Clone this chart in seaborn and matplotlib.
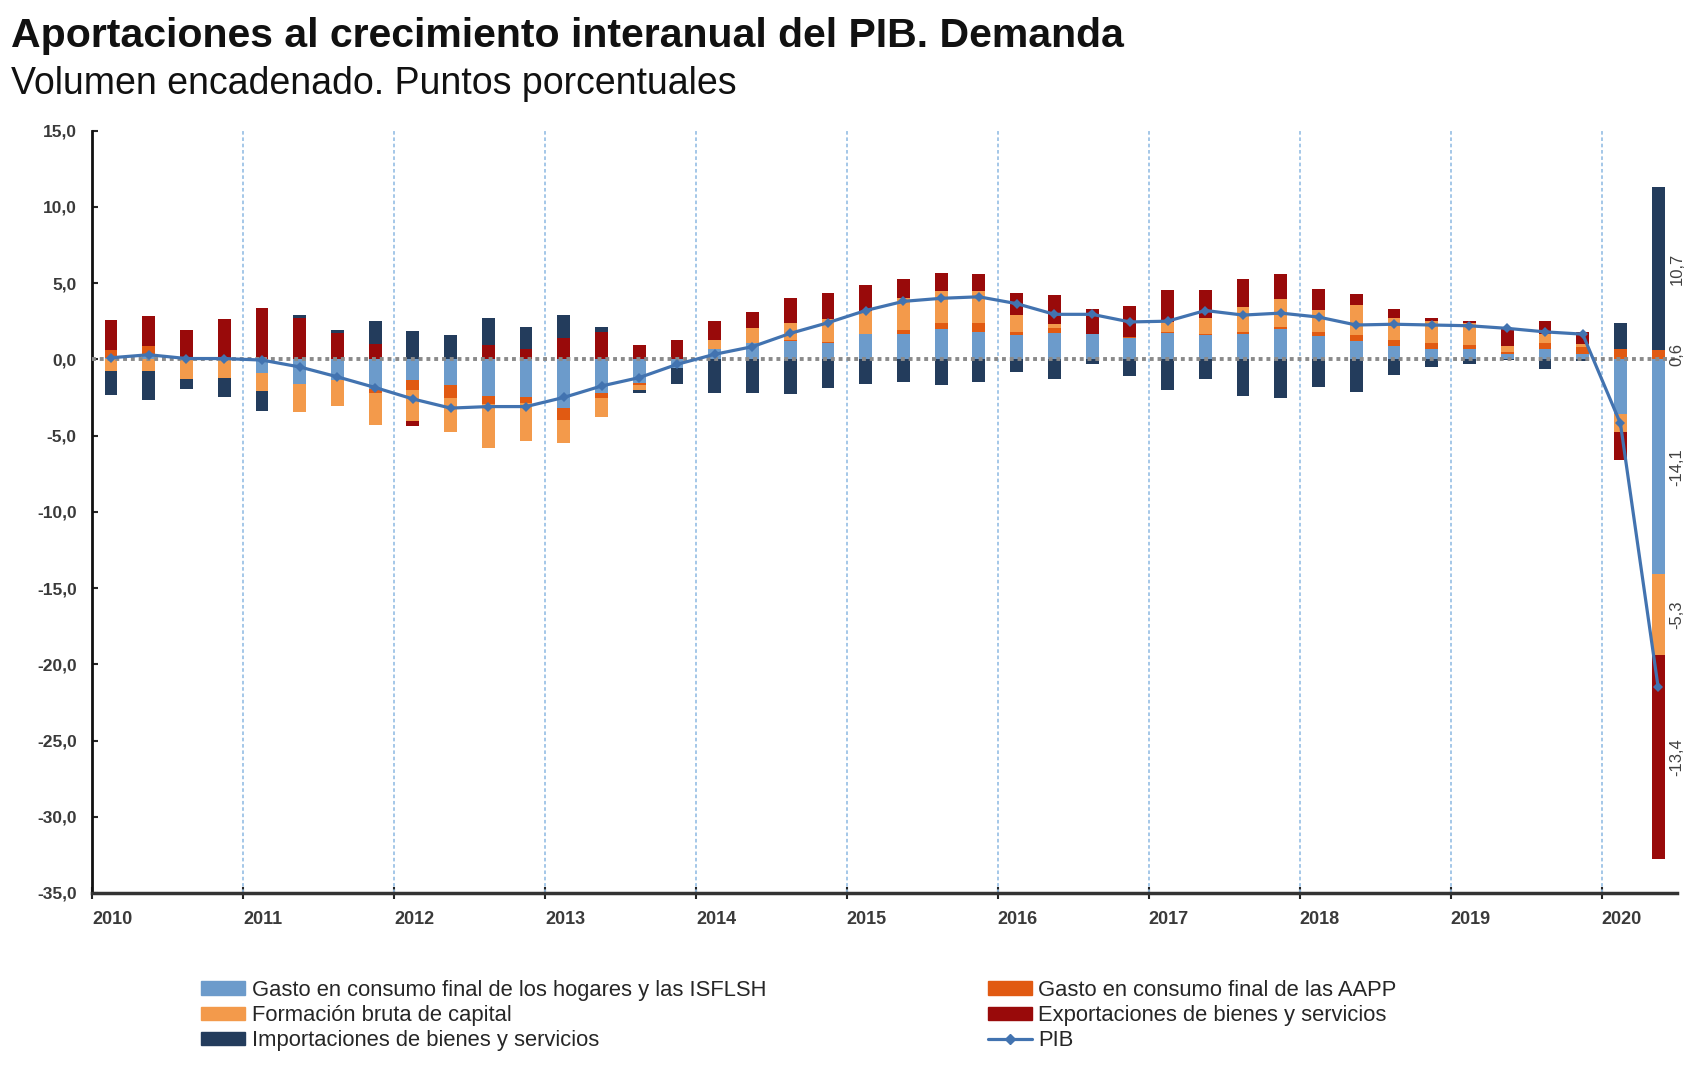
import numpy as np
import pandas as pd
import matplotlib
matplotlib.use('Agg')
import matplotlib.pyplot as plt
import seaborn as sns
from matplotlib.patches import Patch
from matplotlib.lines import Line2D

# datos trimestrales 2010T1 - 2020T2 (puntos porcentuales)
years = ['2010', '2011', '2012', '2013', '2014', '2015', '2016', '2017', '2018', '2019', '2020']

hogares = [0.10, 0.30, 0.00, 0.00, -0.87, -1.64, -1.38, -1.96, -1.35, -1.68, -2.40,
           -2.45, -3.20, -2.18, -1.53, -0.55, 0.65, 1.09, 1.20, 1.09, 1.64, 1.64,
           1.97, 1.79, 1.59, 1.75, 1.64, 1.42, 1.75, 1.59, 1.64, 1.97, 1.53,
           1.20, 0.87, 0.65, 0.70, 0.33, 0.70, 0.33, -3.60, -14.1]
aapp = [0.50, 0.60, 0.10, 0.10, 0.00, 0.00, 0.00, -0.22, -0.68, -0.87, -0.55,
        -0.39, -0.79, -0.39, -0.17, 0.00, 0.00, 0.00, 0.05, 0.05, 0.05, 0.26,
        0.39, 0.57, 0.22, 0.30, 0.05, 0.05, 0.05, 0.05, 0.17, 0.17, 0.28,
        0.39, 0.37, 0.44, 0.22, 0.17, 0.39, 0.48, 0.65, 0.6]
fbc = [-0.75, -0.75, -1.27, -1.20, -1.20, -1.81, -1.68, -2.10, -2.00, -2.20, -2.84,
       -2.50, -1.50, -1.24, -0.33, 0.00, 0.59, 0.98, 1.14, 1.48, 1.46, 2.14,
       2.12, 2.12, 1.07, 0.28, 0.00, 0.00, 0.65, 1.09, 1.62, 1.79, 1.40,
       2.00, 1.44, 1.42, 1.48, 0.37, 0.55, 0.22, -1.20, -5.3]
exportaciones = [1.95, 1.95, 1.85, 2.55, 3.38, 2.73, 1.75, 1.03, -0.33, 0.00, 0.94,
                 0.65, 1.42, 1.81, 0.92, 1.27, 1.27, 1.03, 1.60, 1.70, 1.72, 1.24,
                 1.20, 1.14, 1.48, 1.92, 1.59, 2.00, 2.12, 1.83, 1.86, 1.64, 1.38,
                 0.72, 0.59, 0.17, 0.10, 1.16, 0.87, 0.76, -1.81, -13.4]
importaciones = [-1.60, -1.90, -0.70, -1.30, -1.33, 0.20, 0.20, 1.48, 1.86, 1.57, 1.75,
                 1.48, 1.46, 0.33, -0.15, -1.09, -2.18, -2.23, -2.29, -1.90, -1.64, -1.48,
                 -1.68, -1.48, -0.81, -1.27, -0.33, -1.09, -2.00, -1.27, -2.40, -2.51, -1.79,
                 -2.12, -1.05, -0.50, -0.33, -0.05, -0.65, -0.10, 1.70, 10.7]
pib = [0.10, 0.30, 0.05, 0.05, -0.05, -0.50, -1.15, -1.85, -2.60, -3.20, -3.10,
       -3.10, -2.50, -1.75, -1.20, -0.33, 0.33, 0.83, 1.70, 2.40, 3.20, 3.80,
       4.00, 4.10, 3.65, 2.95, 2.95, 2.45, 2.50, 3.20, 2.90, 3.03, 2.77,
       2.25, 2.30, 2.25, 2.20, 2.03, 1.80, 1.65, -4.20, -21.5]

labels = ['Gasto en consumo final de los hogares y las ISFLSH',
          'Gasto en consumo final de las AAPP',
          'Formación bruta de capital',
          'Exportaciones de bienes y servicios',
          'Importaciones de bienes y servicios',
          'PIB']
colors = ['#6C9BCB', '#E15A12', '#F39A4B', '#990A0A', '#233C5C']
pib_color = '#4273B0'

sns.set_style('white')
plt.rcParams['font.family'] = ['Liberation Sans', 'DejaVu Sans']

n = len(pib)
df = pd.DataFrame({'pos': np.arange(n), 'pib': pib})

fig = plt.figure(figsize=(17.06, 10.66), dpi=100)
ax = fig.add_axes([0.054, 0.1623, 0.929, 0.7152])

# barras apiladas: positivos hacia arriba, negativos hacia abajo
series = [hogares, aapp, fbc, exportaciones, importaciones]
pos_b = np.zeros(n)
neg_b = np.zeros(n)
last_segments = []
for vals, col in zip(series, colors):
    v = np.array(vals, dtype=float)
    bottom = np.where(v >= 0, pos_b, neg_b)
    ax.bar(df['pos'], v, bottom=bottom, width=0.34, color=col, zorder=2, linewidth=0)
    last_segments.append((bottom[-1] + v[-1] / 2, v[-1]))
    pos_b += np.where(v > 0, v, 0)
    neg_b += np.where(v < 0, v, 0)

# separadores de año
for k in range(1, 11):
    ax.axvline(k * 4 - 0.5, color='#9DC3E6', lw=1.3, ls=(0, (2, 1.5)), zorder=1)

ax.axhline(0, color='#8A8A8A', lw=2.8, ls=(0, (1, 1)), zorder=3)

sns.lineplot(data=df, x='pos', y='pib', ax=ax, color=pib_color, lw=2.3,
             marker='D', markersize=5.5, markeredgewidth=0, zorder=4, legend=False)

# etiquetas de la última barra
for center, val in last_segments:
    ax.text(n - 1 + 0.5, center, f'{val:.1f}'.replace('.', ','), rotation=90,
            ha='center', va='center', fontsize=12, color='#404040')

ax.set_xlim(-0.5, n - 0.5)
ax.set_ylim(-35, 15)
yt = np.arange(-35, 16, 5)
ax.set_yticks(yt)
ax.set_yticklabels([f'{v:.1f}'.replace('.', ',') for v in yt], fontsize=12.5,
                   fontweight='bold', color='#3A3A3A')
ax.set_xticks([k * 4 - 0.5 for k in range(len(years))])
ax.set_xticklabels(years, ha='left', fontsize=13, fontweight='bold', color='#3A3A3A')
ax.tick_params(axis='y', direction='in', length=4, width=1.5, pad=11, left=True)
ax.tick_params(axis='x', direction='inout', length=8, width=1.5, pad=9, bottom=True)
ax.set_xlabel('')
ax.set_ylabel('')

for s in ['top', 'right']:
    ax.spines[s].set_visible(False)
ax.spines['left'].set_color('#111111')
ax.spines['left'].set_linewidth(2.0)
ax.spines['bottom'].set_color('#333333')
ax.spines['bottom'].set_linewidth(2.5)

fig.text(0.0065, 0.966, 'Aportaciones al crecimiento interanual del PIB. Demanda',
         fontsize=29.5, fontweight='bold', va='center', color='#111111')
fig.text(0.0065, 0.921, 'Volumen encadenado. Puntos porcentuales',
         fontsize=27, va='center', color='#111111')

h = [Patch(color=c) for c in colors]
h_pib = Line2D([], [], color=pib_color, lw=2.3, marker='D', markersize=5)
leg_kw = dict(loc='upper left', frameon=False, fontsize=15.8, handlelength=2.0,
              handleheight=0.55, borderpad=0, borderaxespad=0, labelspacing=0.2,
              handletextpad=0.3)
fig.legend([h[0], h[2], h[4]], [labels[0], labels[2], labels[4]],
           bbox_to_anchor=(0.118, 0.081), **leg_kw)
fig.legend([h[1], h[3], h_pib], [labels[1], labels[3], labels[5]],
           bbox_to_anchor=(0.579, 0.081), **leg_kw)

fig.savefig('out.png', dpi=100)
